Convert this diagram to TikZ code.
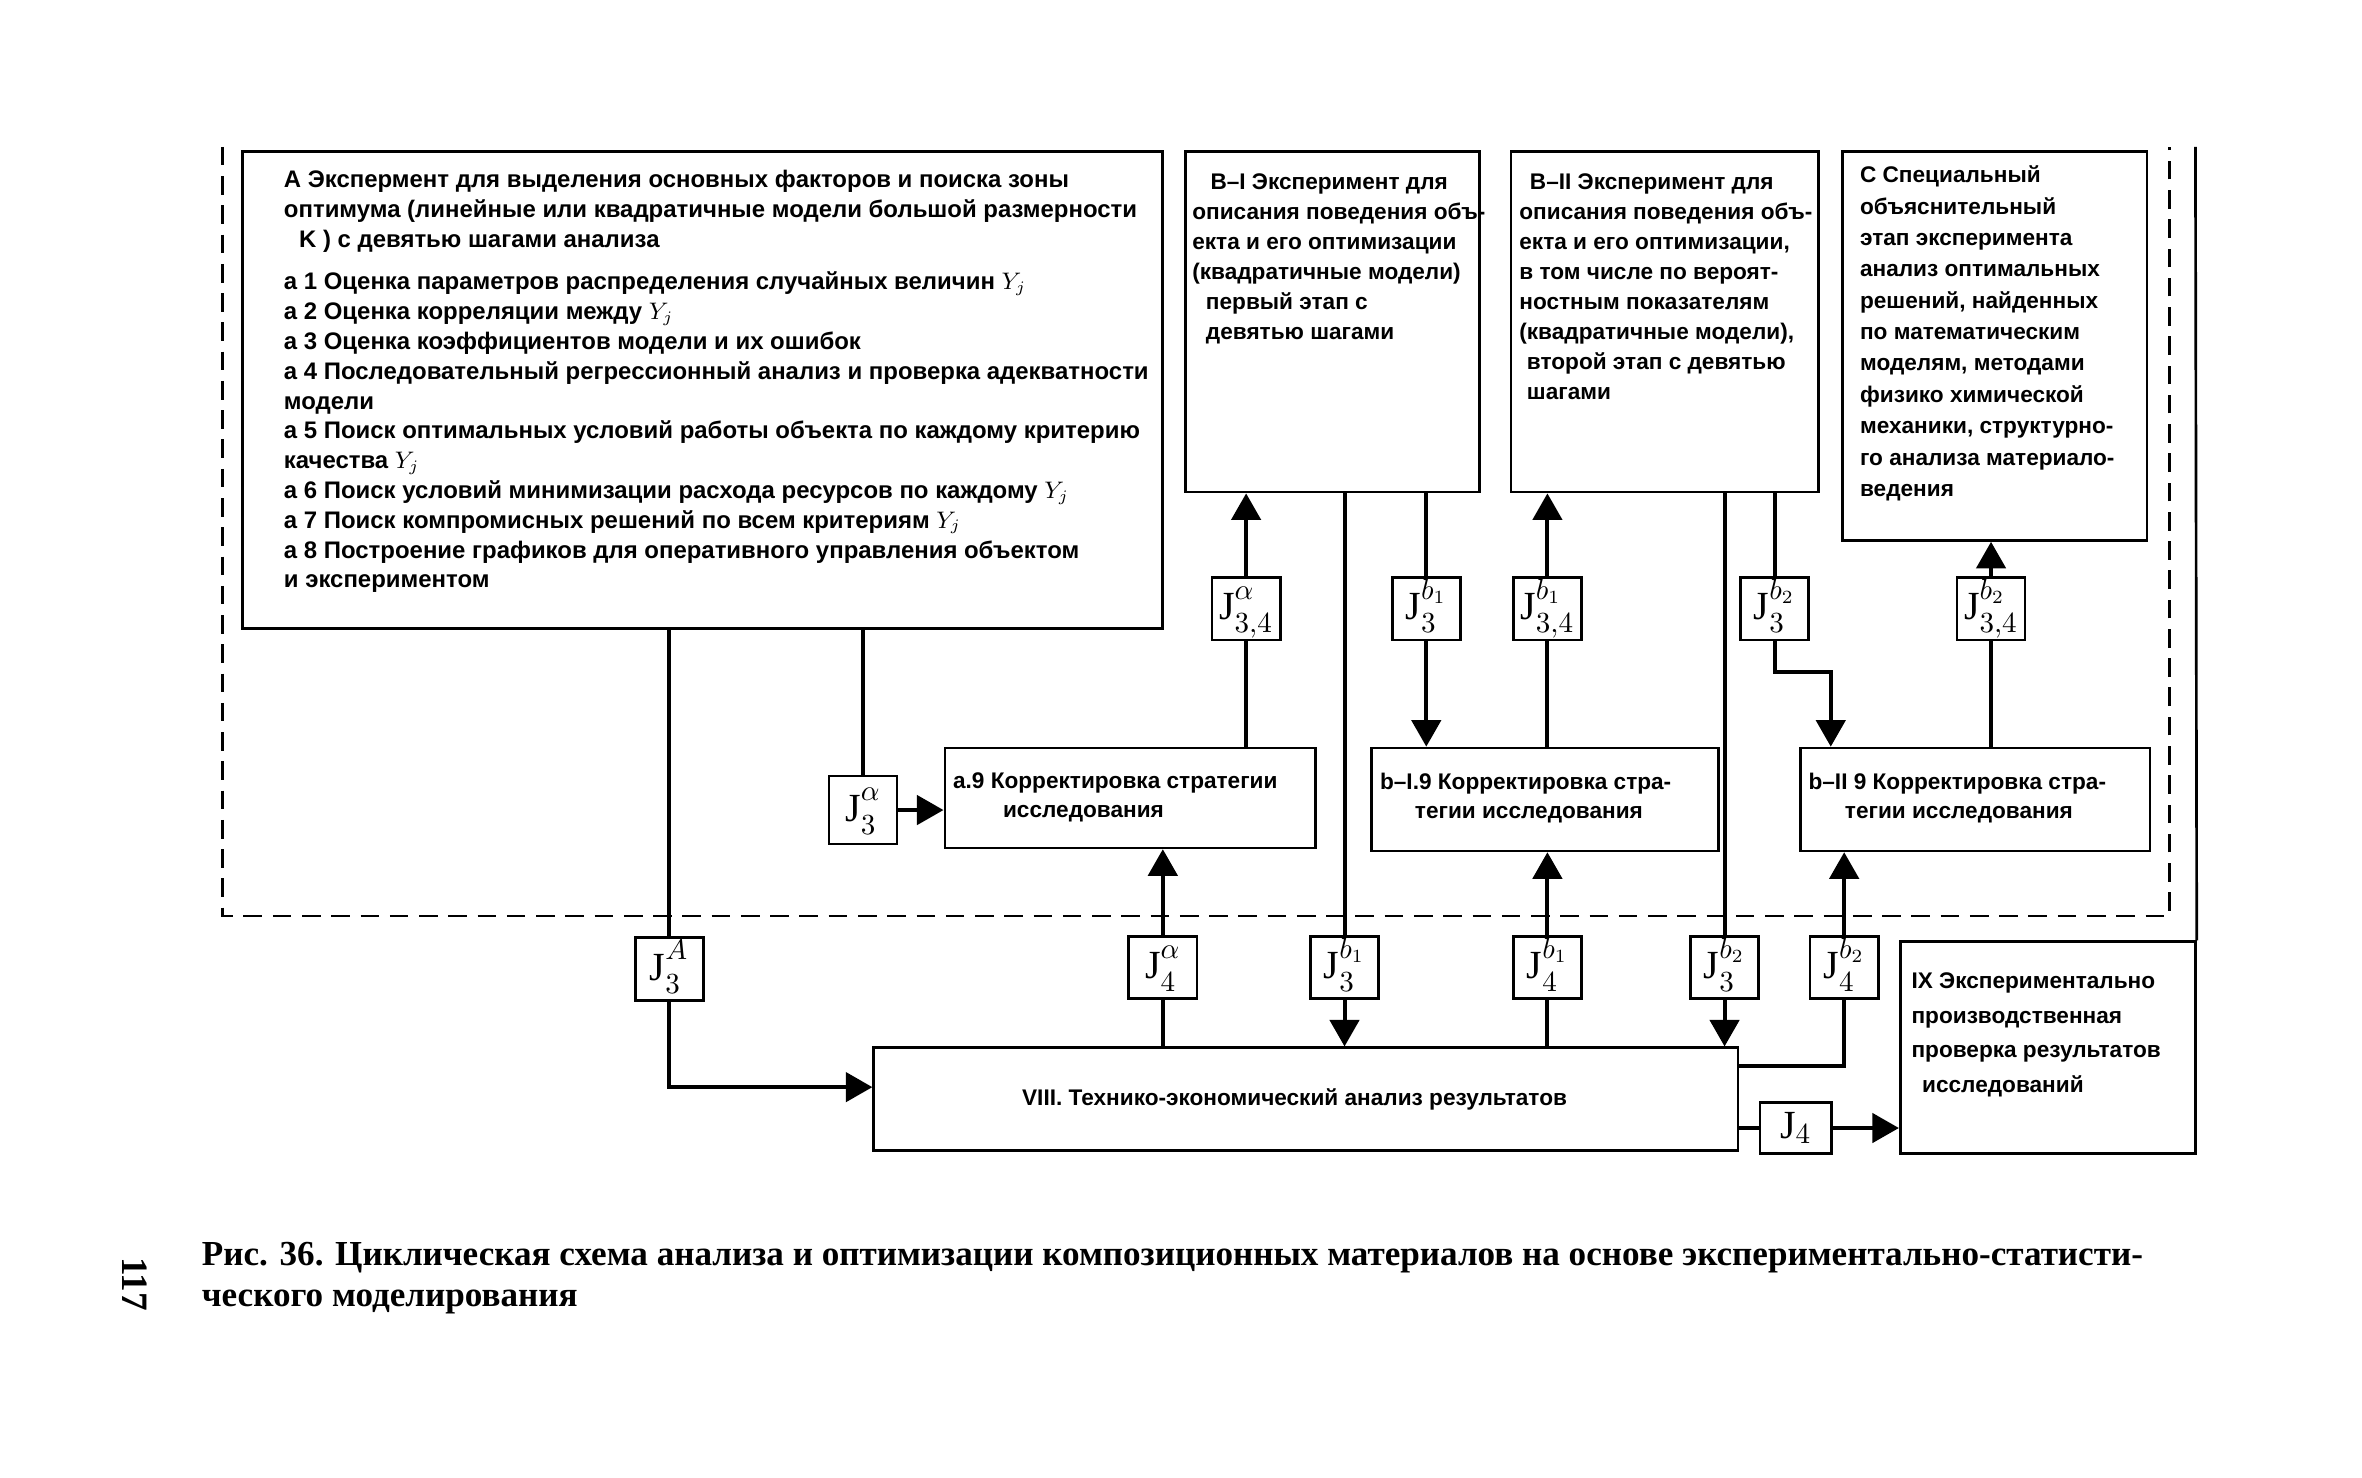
\documentclass[tikz,border=0pt]{standalone}
\usepackage{fontspec}
\setmainfont{Liberation Serif}
\setsansfont{Liberation Sans}
\usetikzlibrary{positioning, arrows.meta}

\newcommand\jlab[2]{$\mathrm{J}^{#1\vphantom{(}}_{#2\vphantom{(}}$}

\tikzset{
  block/.style={draw, line width=1pt, inner sep=0pt},
  jbox/.style={draw, line width=1pt, minimum width=0.9cm, minimum height=0.8cm,
    inner sep=0pt, font=\fontsize{15}{17}\selectfont},
  txt/.style={inner sep=0pt, align=left, anchor=north west,
    font=\sffamily\bfseries\fontsize{8.5}{11.3}\selectfont},
  link/.style={line width=1.5pt},
  frame/.style={line width=1pt, dash pattern=on 7pt off 4pt},
}

\begin{document}
\begin{tikzpicture}[x=0.02cm, y=-0.02cm, >={Triangle[length=10pt,width=11pt]}]
  \useasboundingbox (0,0) rectangle (1560,975.5);
  % Boxes
  \node[block, minimum width=12.16cm, minimum height=6.3cm] (A) at (464,257.5) {};
  \node[block, minimum width=3.88cm, minimum height=4.5cm] (BI) at (880,212.5) {};
  \node[block, minimum width=4.06cm, minimum height=4.5cm] (BII) at (1099.5,212.5) {};
  \node[block, minimum width=4.02cm, minimum height=5.14cm] (C) at (1317.5,228.5) {};
  \node[block, minimum width=4.9cm, minimum height=1.32cm] (a9) at (746.5,527) {};
  \node[block, minimum width=4.58cm, minimum height=1.36cm] (bI9) at (1020.5,528) {};
  \node[block, minimum width=4.62cm, minimum height=1.36cm] (bII9) at (1304.5,528) {};
  \node[block, minimum width=11.42cm, minimum height=1.36cm,
    font=\sffamily\bfseries\fontsize{8.5}{10}\selectfont] (VIII) at (862.5,726)
    {VIII. Технико-экономический анализ результатов\hspace*{0.3cm}};
  \node[block, minimum width=3.9cm, minimum height=2.8cm] (IX) at (1352.5,692) {};
  % Texts
  \node[txt, font=\sffamily\bfseries\fontsize{9}{11.2}\selectfont] (Atxt)
    at ([shift={(28,13)}]A.north west)
    {А Экспермент для выделения основных факторов и поиска зоны\\
     оптимума (линейные или квадратичные модели большой размерности\\
     \hspace*{0.2cm}K ) с девятью шагами анализа\\[4.8pt]
     а 1 Оценка параметров распределения случайных величин $Y_j$\\
     а 2 Оценка корреляции между $Y_j$\\
     а 3 Оценка коэффициентов модели и их ошибок\\
     а 4 Последовательный регрессионный анализ и проверка адекватности\\
     модели\\
     а 5 Поиск оптимальных условий работы объекта по каждому критерию\\
     качества $Y_j$\\
     а 6 Поиск условий минимизации расхода ресурсов по каждому $Y_j$\\
     а 7 Поиск компромисных решений по всем критериям $Y_j$\\
     а 8 Построение графиков для оперативного управления объектом\\
     и экспериментом};
  \node[txt] (BItxt) at ([shift={(5,15)}]BI.north west)
    {\hspace*{0.24cm}В--I Эксперимент для\\
     описания поведения объ-\\
     екта и его оптимизации\\
     (квадратичные модели)\\
     \hspace*{0.18cm}первый этап с\\
     \hspace*{0.18cm}девятью шагами};
  \node[txt] (BIItxt) at ([shift={(6,15)}]BII.north west)
    {\hspace*{0.14cm}В--II Эксперимент для\\
     описания поведения объ-\\
     екта и его оптимизации,\\
     в том числе по вероят-\\
     ностным показателям\\
     (квадратичные модели),\\
     \hspace*{0.1cm}второй этап с девятью\\
     \hspace*{0.1cm}шагами};
  \node[txt, font=\sffamily\bfseries\fontsize{8.5}{11.8}\selectfont] (Ctxt)
    at ([shift={(12,10)}]C.north west)
    {С Специальный\\
     объяснительный\\
     этап эксперимента\\
     анализ оптимальных\\
     решений, найденных\\
     по математическим\\
     моделям, методами\\
     физико химической\\
     механики, структурно-\\
     го анализа материало-\\
     ведения};
  \node[txt, font=\sffamily\bfseries\fontsize{8.5}{10.8}\selectfont] (a9txt)
    at ([shift={(6,17)}]a9.north west)
    {а.9 Корректировка стратегии\\ \hspace*{0.66cm}исследования};
  \node[txt, font=\sffamily\bfseries\fontsize{8.5}{10.8}\selectfont] (bI9txt)
    at ([shift={(6,17)}]bI9.north west)
    {b--I.9 Корректировка стра-\\ \hspace*{0.46cm}тегии исследования};
  \node[txt, font=\sffamily\bfseries\fontsize{8.5}{10.8}\selectfont] (bII9txt)
    at ([shift={(6,17)}]bII9.north west)
    {b--II 9 Корректировка стра-\\ \hspace*{0.48cm}тегии исследования};
  \node[txt, font=\sffamily\bfseries\fontsize{8.5}{13}\selectfont] (IXtxt)
    at ([shift={(8,21)}]IX.north west)
    {IX Экспериментально\\
     производственная\\
     проверка результатов\\
     \hspace*{0.14cm}исследований};
  % Information boxes
  \node[jbox, minimum height=0.9cm] (Ja3) at (570,535) {\jlab{\alpha}{3}};
  \node[jbox] (Ja34) at (823,402) {\jlab{\alpha}{3,4}};
  \node[jbox] (Jb13u) at (942,402) {\jlab{b_1}{3}};
  \node[jbox] (Jb134) at (1022,402) {\jlab{b_1}{3,4}};
  \node[jbox] (Jb23u) at (1172,402) {\jlab{b_2}{3}};
  \node[jbox] (Jb234) at (1315,402) {\jlab{b_2}{3,4}};
  \node[jbox] (JA3) at (442,640) {\jlab{A}{3}};
  \node[jbox] (Ja4) at (768,639) {\jlab{\alpha}{4}};
  \node[jbox] (Jb13d) at (888,639) {\jlab{b_1}{3}};
  \node[jbox] (Jb14) at (1022,639) {\jlab{b_1}{4}};
  \node[jbox] (Jb23d) at (1139,639) {\jlab{b_2}{3}};
  \node[jbox] (Jb24) at (1218,639) {\jlab{b_2}{4}};
  \node[jbox, minimum width=0.94cm, minimum height=0.68cm] (J4) at (1186,745) {$\mathrm{J}_{4}$};
  % Frame of the cycle
  \coordinate (frTL) at (147,97);
  \coordinate (frBL) at (147,605);
  \coordinate (frBR) at (1433,605);
  \coordinate (frTR) at (1433,97);
  \draw[frame] (frTL) -- (frBL) -- (frBR) -- (frTR);
  \coordinate (IXtop) at (1450,97);
  \draw[line width=1pt] (IXtop) -- (IX.north east);
  % Links from A
  \draw[link] (A.south -| JA3) -- (JA3.north);
  \draw[link,->] (JA3.south) |- ([yshift=0.16cm]VIII.west);
  \draw[link] (A.south -| Ja3) -- (Ja3.north);
  \draw[link,->] (Ja3.east) -- (Ja3.east -| a9.west);
  % Upper links
  \draw[link] (a9.north -| Ja34) -- (Ja34.south);
  \draw[link,->] (Ja34.north) -- (Ja34.north |- BI.south);
  \draw[link] (BI.south -| Jb13u) -- (Jb13u.north);
  \draw[link,->] (Jb13u.south) -- (Jb13u.south |- bI9.north);
  \draw[link] (bI9.north -| Jb134) -- (Jb134.south);
  \draw[link,->] (Jb134.north) -- (Jb134.north |- BII.south);
  \draw[link] (BII.south -| Jb23u) -- (Jb23u.north);
  \coordinate (bII9in) at ([xshift=0.42cm]bII9.north west);
  \draw[link,->] (Jb23u.south) -- ++(0,20) -| (bII9in);
  \draw[link] (bII9.north -| Jb234) -- (Jb234.south);
  \draw[link,->] (Jb234.north) -- (Jb234.north |- C.south);
  % Lower links
  \draw[link] (VIII.north -| Ja4) -- (Ja4.south);
  \draw[link,->] (Ja4.north) -- (Ja4.north |- a9.south);
  \draw[link] (BI.south -| Jb13d) -- (Jb13d.north);
  \draw[link,->] (Jb13d.south) -- (Jb13d.south |- VIII.north);
  \draw[link] (VIII.north -| Jb14) -- (Jb14.south);
  \draw[link,->] (Jb14.north) -- (Jb14.north |- bI9.south);
  \draw[link] (BII.south -| Jb23d) -- (Jb23d.north);
  \draw[link,->] (Jb23d.south) -- (Jb23d.south |- VIII.north);
  \draw[link,->] (Jb24.north) -- (Jb24.north |- bII9.south);
  \coordinate (VIIIr) at ([yshift=-0.26cm]VIII.north east);
  \draw[link] (Jb24.south) |- (VIIIr);
  \draw[link] (VIII.east |- J4) -- (J4.west);
  \draw[link,->] (J4.east) -- (J4.east -| IX.west);
  % Caption
  \node[inner sep=0pt, align=left, anchor=north west,
    font=\bfseries\fontsize{13.2}{15.5}\selectfont] (cap) at (133,820)
    {Рис. 36. Циклическая схема анализа и оптимизации композиционных материалов на основе экспериментально-статисти-\\
     ческого моделирования};
  \node[rotate=-90, inner sep=0pt, font=\bfseries\fontsize{14}{14}\selectfont] (page) at (89,848) {117};
\end{tikzpicture}
\end{document}
